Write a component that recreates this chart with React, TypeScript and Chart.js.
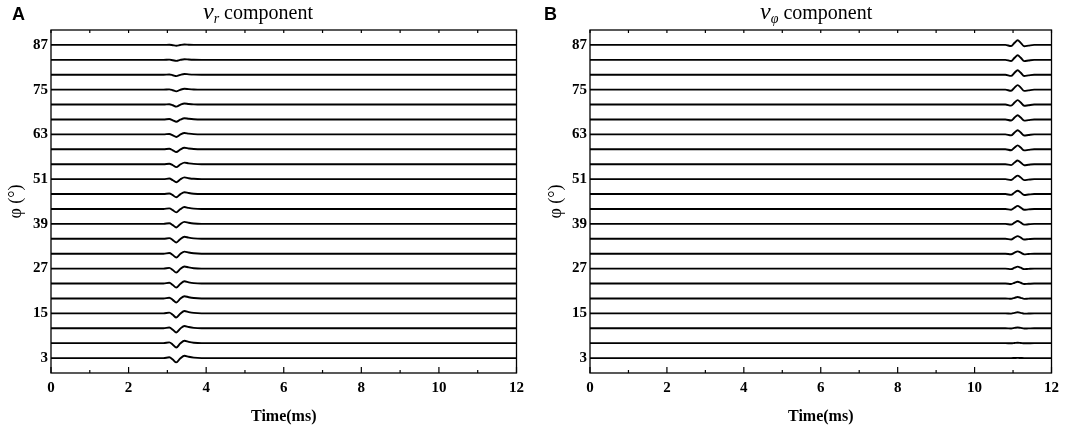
import React, { useEffect, useRef } from "react";
import { Chart, registerables } from "chart.js";

Chart.register(...registerables);

// ---- data ----
const ANGLES = [3, 7, 11, 15, 19, 23, 27, 31, 35, 39, 43, 47, 51, 55, 59, 63, 67, 71, 75, 79, 83, 87];
const Y_TICKS = [3, 15, 27, 39, 51, 63, 75, 87];
const X_MIN = 0;
const X_MAX = 12;
const Y_MIN = -1;
const Y_MAX = 91;

// panel A (v_r): wavelet sample times (ms) and normalized shape
const A_TIMES = [0, 2.9, 3.05, 3.14, 3.23, 3.33, 3.44, 3.55, 3.68, 3.88, 12];
const A_SHAPE = [0, 0, 0.18, -0.35, -1.0, -0.1, 0.55, 0.3, 0.1, 0, 0];
// per-trace amplitude (in axis units), angles 3..87
const A_AMPS = [1.15, 1.15, 1.13, 1.12, 1.1, 1.08, 1.05, 1.02, 0.99, 0.96, 0.92, 0.88, 0.84, 0.79, 0.74, 0.69, 0.62, 0.54, 0.46, 0.37, 0.29, 0.21];

// panel B (v_phi)
const B_TIMES = [0, 10.8, 10.95, 11.04, 11.12, 11.2, 11.29, 11.4, 11.55, 12];
const B_SHAPE = [0, 0, -0.25, 0.45, 1.0, 0.45, -0.28, -0.15, 0, 0];
const B_AMPS = [0.05, 0.13, 0.22, 0.3, 0.38, 0.46, 0.54, 0.62, 0.7, 0.75, 0.83, 0.89, 0.94, 0.99, 1.05, 1.1, 1.13, 1.18, 1.21, 1.21, 1.24, 1.24];

const SERIF = "'Liberation Serif', 'Times New Roman', serif";

const framePlugin = {
  id: "frame",
  afterDatasetsDraw(chart: any) {
    const { ctx, chartArea: a, scales } = chart;
    ctx.save();
    ctx.strokeStyle = "#000";
    ctx.lineWidth = 1.3;
    ctx.strokeRect(a.left, a.top, a.right - a.left, a.bottom - a.top);
    ctx.lineWidth = 1.2;
    for (let v = X_MIN; v <= X_MAX; v++) {
      const x = scales.x.getPixelForValue(v);
      const major = v % 2 === 0;
      ctx.beginPath();
      ctx.moveTo(x, a.bottom);
      ctx.lineTo(x, a.bottom - (major ? 6 : 3));
      ctx.stroke();
      ctx.beginPath();
      ctx.moveTo(x, a.top);
      ctx.lineTo(x, a.top + 3);
      ctx.stroke();
    }
    ctx.restore();
  },
};

function makeConfig(times: number[], shape: number[], amps: number[], yWidth: number, rightPad: number, yTitlePad: number): any {
  const datasets = ANGLES.map((ang, k) => ({
    label: String(ang),
    data: times.map((t, i) => ({ x: t, y: ang + amps[k] * shape[i] })),
    borderColor: "#000",
    borderWidth: 1.9,
    pointRadius: 0,
    fill: false,
    cubicInterpolationMode: "monotone",
  }));
  return {
    type: "line",
    data: { datasets },
    plugins: [framePlugin],
    options: {
      responsive: false,
      animation: false,
      layout: { padding: { top: 30, right: rightPad, bottom: 0, left: 0 } },
      plugins: { legend: { display: false }, tooltip: { enabled: false }, title: { display: false } },
      scales: {
        x: {
          type: "linear",
          min: X_MIN,
          max: X_MAX,
          grid: { display: false, drawTicks: false },
          border: { display: false },
          ticks: { stepSize: 2, color: "#000", padding: 6, font: { family: SERIF, size: 15, weight: "bold" } },
          title: { display: true, text: "Time(ms)", color: "#000", padding: { top: 0, bottom: 0 }, font: { family: SERIF, size: 16, weight: "bold" } },
          afterFit: (s: any) => {
            s.height = 53;
          },
        },
        y: {
          type: "linear",
          min: Y_MIN,
          max: Y_MAX,
          grid: { display: false, drawTicks: false },
          border: { display: false },
          afterBuildTicks: (s: any) => {
            s.ticks = Y_TICKS.map((v) => ({ value: v }));
          },
          ticks: { color: "#000", padding: 3, font: { family: SERIF, size: 15, weight: "bold" } },
          title: { display: true, text: "φ (°)", color: "#000", padding: { top: yTitlePad, bottom: 0 }, font: { family: SERIF, size: 18 } },
          afterFit: (s: any) => {
            s.width = yWidth;
          },
        },
      },
    },
  };
}

const letterStyle = (left: number): React.CSSProperties => ({
  position: "absolute",
  left,
  top: 5,
  fontFamily: "'Liberation Sans', Arial, sans-serif",
  fontWeight: "bold",
  fontSize: 18,
  lineHeight: "18px",
  color: "#000",
});

const titleStyle = (left: number): React.CSSProperties => ({
  position: "absolute",
  left,
  top: 0,
  fontFamily: SERIF,
  fontSize: 20,
  lineHeight: "23px",
  whiteSpace: "nowrap",
  color: "#000",
});

export default function App() {
  const refA = useRef<HTMLCanvasElement>(null);
  const refB = useRef<HTMLCanvasElement>(null);

  useEffect(() => {
    const a = new Chart(refA.current as HTMLCanvasElement, makeConfig(A_TIMES, A_SHAPE, A_AMPS, 51, 13, 5));
    const b = new Chart(refB.current as HTMLCanvasElement, makeConfig(B_TIMES, B_SHAPE, B_AMPS, 55, 10, 10));
    return () => {
      a.destroy();
      b.destroy();
    };
  }, []);

  return (
    <div style={{ position: "absolute", left: 0, top: 0, width: 1065, height: 426, background: "#fff", overflow: "hidden" }}>
      <canvas ref={refA} width={530} height={426} style={{ position: "absolute", left: 0, top: 0 }} />
      <canvas ref={refB} width={530} height={426} style={{ position: "absolute", left: 535, top: 0 }} />
      <div style={letterStyle(12)}>A</div>
      <div style={letterStyle(544)}>B</div>
      <div style={titleStyle(203)}>
        <span style={{ fontStyle: "italic", fontSize: 24 }}>v</span>
        <span style={{ fontStyle: "italic", fontSize: 14, position: "relative", top: 4 }}>r</span> component
      </div>
      <div style={titleStyle(760)}>
        <span style={{ fontStyle: "italic", fontSize: 24 }}>v</span>
        <span style={{ fontStyle: "italic", fontSize: 14, position: "relative", top: 4 }}>φ</span> component
      </div>
    </div>
  );
}
